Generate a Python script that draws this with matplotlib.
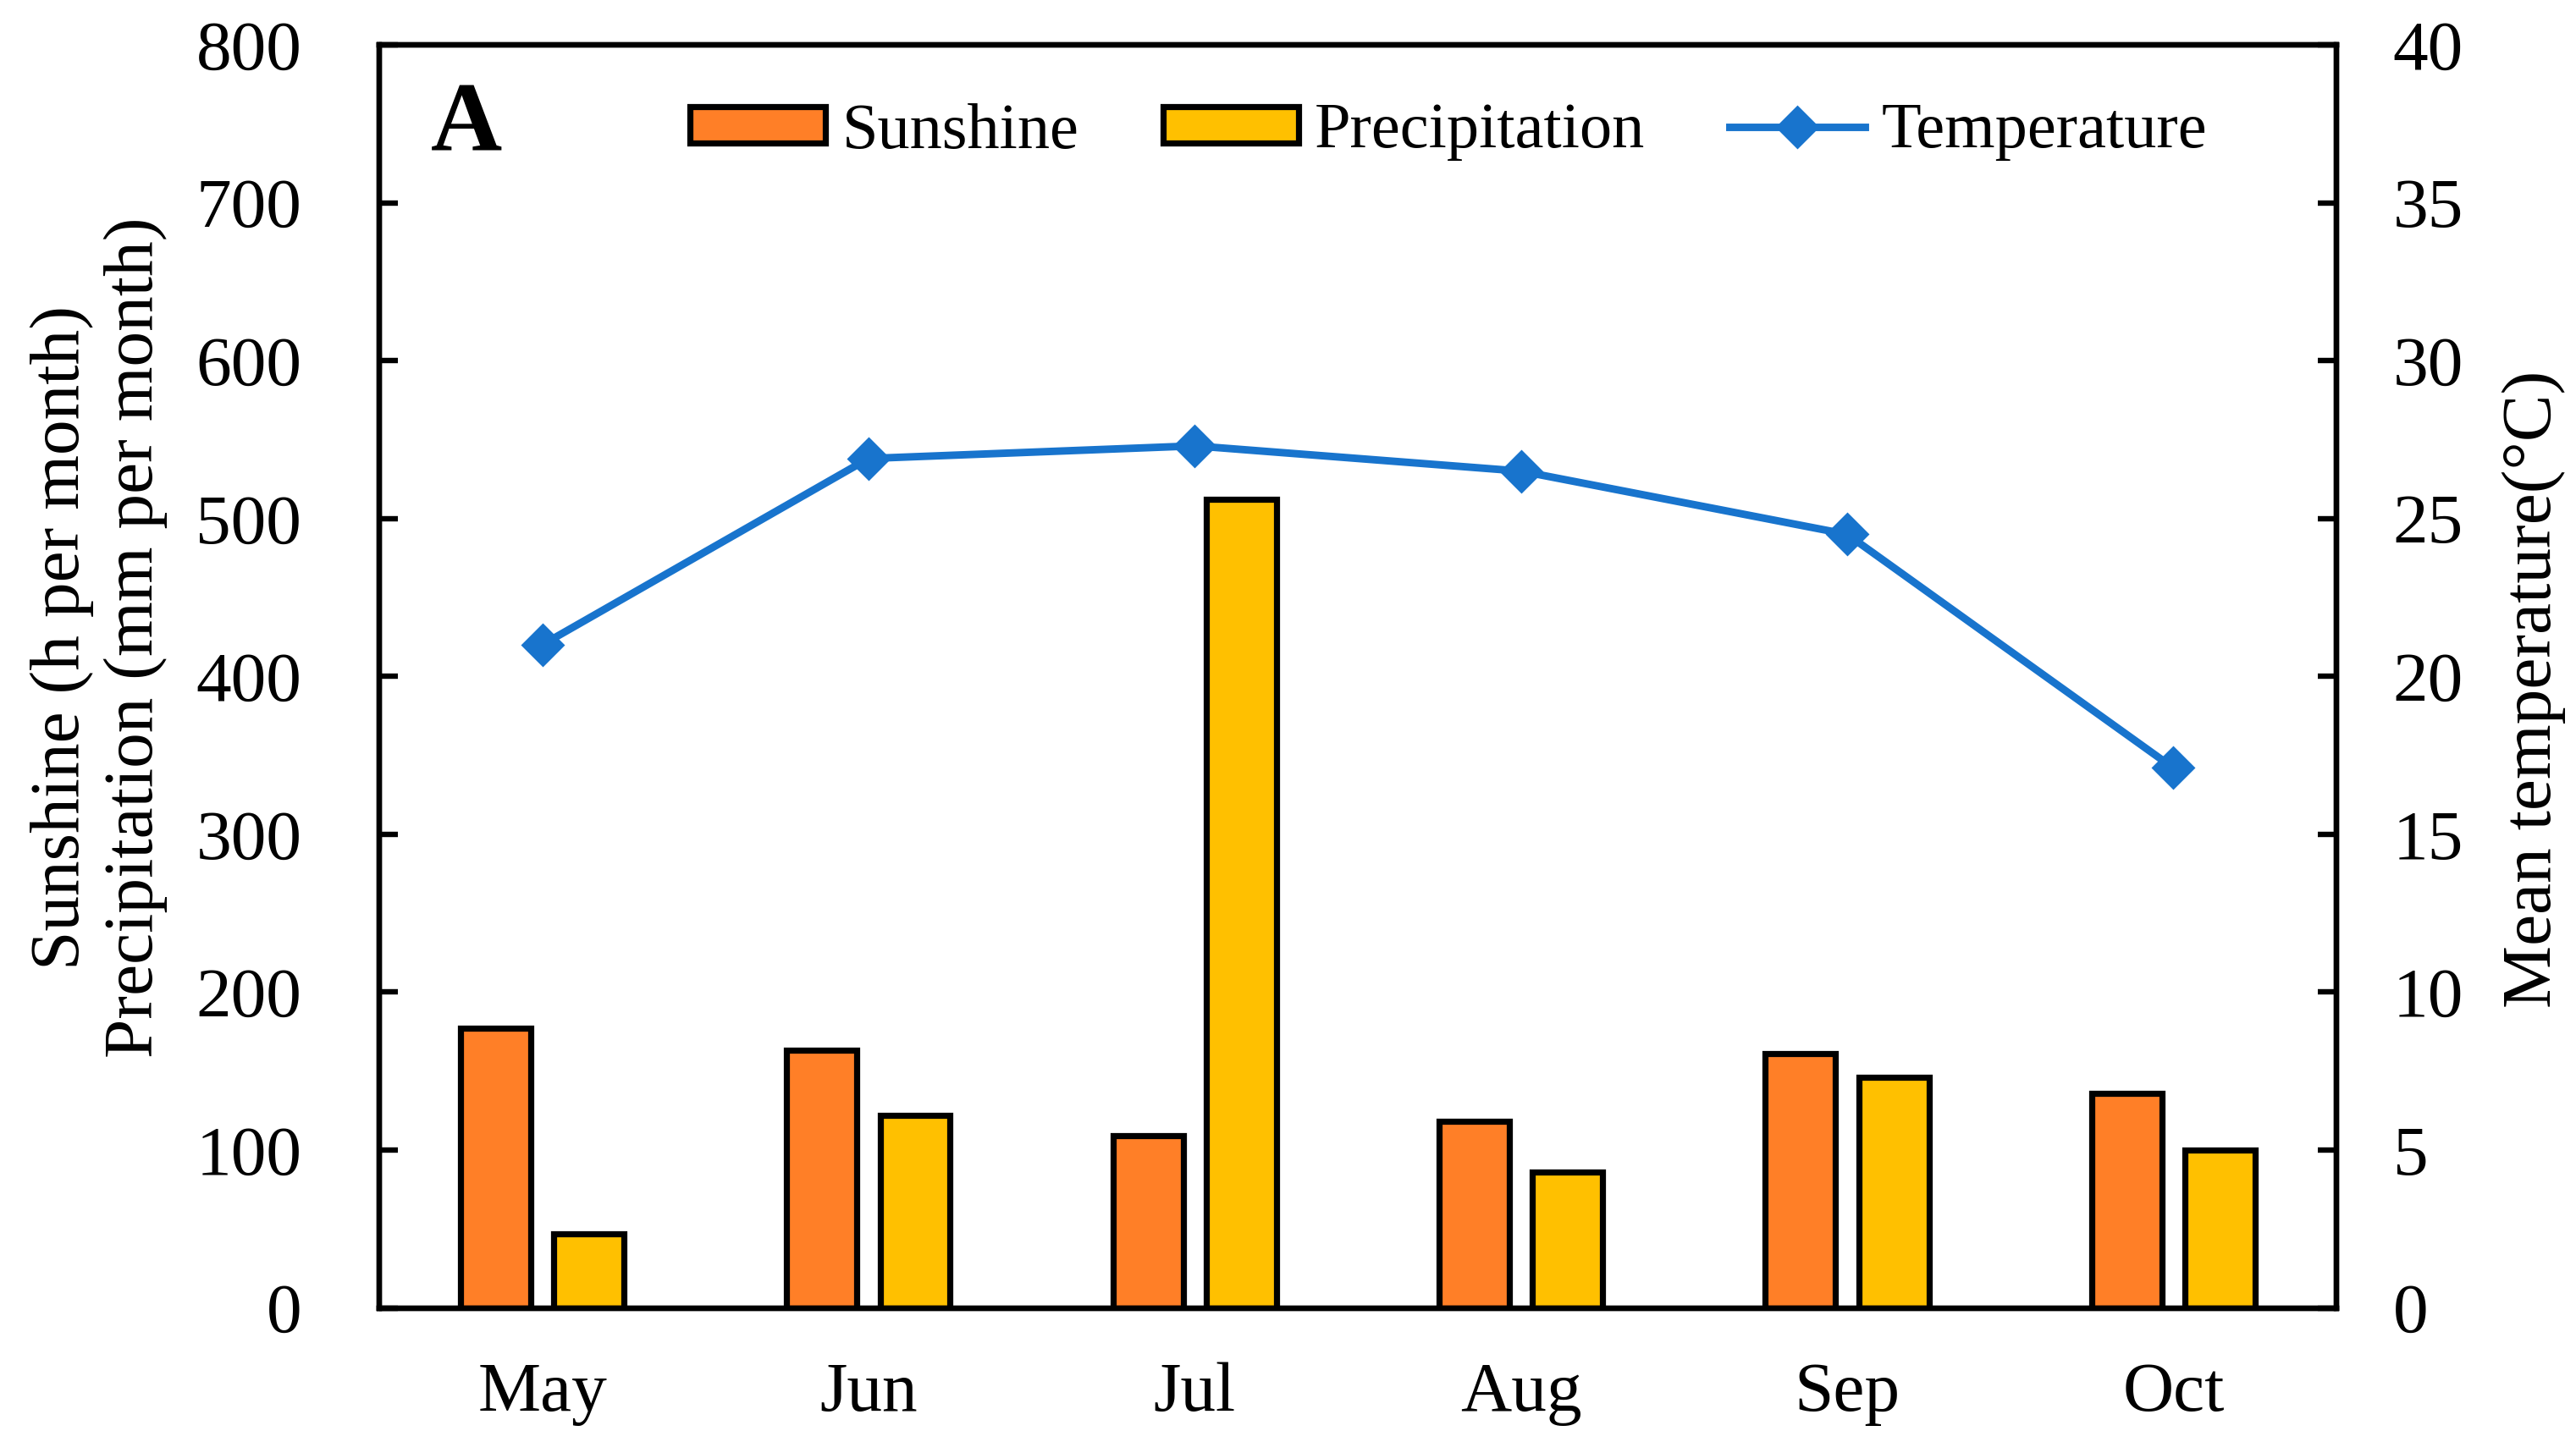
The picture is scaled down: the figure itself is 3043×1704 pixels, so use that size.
import matplotlib
matplotlib.use('Agg')
import matplotlib.pyplot as plt
import numpy as np
from matplotlib.patches import Patch
from matplotlib.lines import Line2D

# monthly climate data
months = ['May', 'Jun', 'Jul', 'Aug', 'Sep', 'Oct']
sunshine = [177, 163, 109, 118, 161, 136]        # h per month
precipitation = [47, 122, 512, 86, 146, 100]     # mm per month
temperature = [21.0, 26.9, 27.3, 26.5, 24.5, 17.1]  # deg C

left_ticks = [0, 100, 200, 300, 400, 500, 600, 700, 800]
right_ticks = [0, 5, 10, 15, 20, 25, 30, 35, 40]

c_sun = '#FF7F27'
c_pre = '#FFC000'
c_temp = '#1874CD'

plt.rcParams['font.family'] = ['Liberation Serif', 'DejaVu Serif']
fs = 30
lw = 2.3

fig = plt.figure(figsize=(15.215, 8.52), dpi=200)
ax = fig.add_axes([0.1472, 0.093, 0.907 - 0.1472, 0.9689 - 0.093])

x = np.arange(len(months))
width = 0.215
off = 0.143
ax.bar(x - off, sunshine, width, color=c_sun, edgecolor='black', linewidth=2.6, zorder=2)
ax.bar(x + off, precipitation, width, color=c_pre, edgecolor='black', linewidth=2.6, zorder=2)

ax.set_xlim(-0.5, 5.5)
ax.set_ylim(0, 800)
ax.set_yticks(left_ticks)
ax.set_xticks(x)
ax.set_xticklabels(months)
ax.tick_params(axis='y', direction='in', length=7.9, width=lw, labelsize=fs, pad=33)
ax.tick_params(axis='x', length=0, labelsize=fs, pad=23)
for s in ax.spines.values():
    s.set_linewidth(lw)

ax2 = ax.twinx()
ax2.plot(x, temperature, color=c_temp, lw=3.2, marker='D', markersize=12, zorder=3)
ax2.set_ylim(0, 40)
ax2.set_yticks(right_ticks)
ax2.tick_params(axis='y', direction='in', length=7.9, width=lw, labelsize=fs, pad=24)
for s in ax2.spines.values():
    s.set_linewidth(lw)

# axis labels
fig.text(0.0385, 0.558, 'Sunshine (h per month)\nPrecipitation (mm per month)',
         rotation=90, ha='center', va='center', fontsize=fs, linespacing=1.2)
fig.text(0.9835, 0.522, 'Mean temperature(\u00b0C)', rotation=90,
         ha='center', va='center', fontsize=fs)

# panel letter
fig.text(551 / 3043, 1 - 150 / 1704, 'A', fontsize=42, fontweight='bold',
         ha='center', va='center')

handles = [
    Patch(facecolor=c_sun, edgecolor='black', linewidth=2.6),
    Patch(facecolor=c_pre, edgecolor='black', linewidth=2.6),
    Line2D([], [], color=c_temp, lw=3.2, marker='D', markersize=12),
]
fig.legend(handles, ['Sunshine', 'Precipitation', 'Temperature'],
           loc='center left', bbox_to_anchor=(815 / 3043, 1 - 156 / 1704),
           ncol=3, frameon=False, fontsize=27.5, borderpad=0, borderaxespad=0,
           handlelength=2.1, handleheight=0.5, handletextpad=0.25,
           columnspacing=1.3)

fig.savefig('out.png', dpi=200)
